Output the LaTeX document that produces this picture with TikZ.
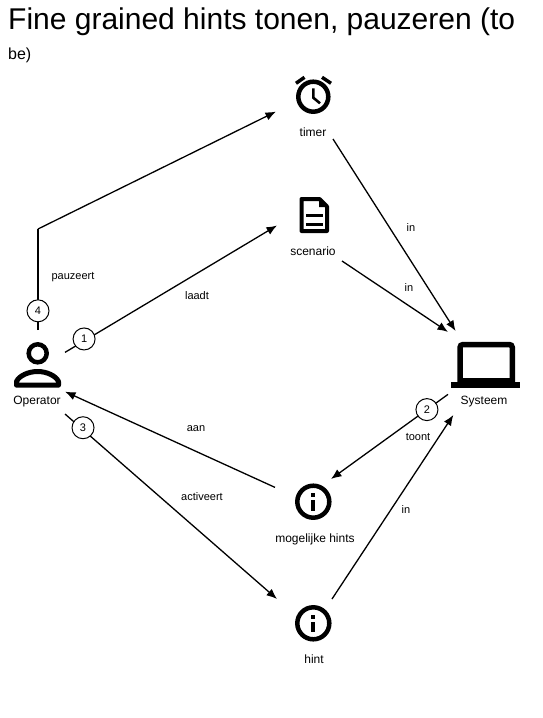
\documentclass[tikz,border=0pt]{standalone}
\usepackage{fontspec}
\setmainfont{Liberation Sans}
\usetikzlibrary{arrows.meta}
\begin{document}
\begin{tikzpicture}[x=1pt,y=-1pt]
    \tikzset{iconbox/.style={minimum width=#1, inner sep=0pt, outer sep=0pt},
        iconline/.style={draw=black, line width=#1},
        iconline/.default={4.5pt},
        caption/.style={inner sep=0pt, font=\fontsize{12}{14}\selectfont},
        edgetext/.style={inner sep=0pt, font=\fontsize{11}{13}\selectfont},
        num/.style={circle, draw=black, fill=white, minimum size=22pt, inner sep=0pt, line width=1pt, font=\fontsize{11}{13}\selectfont},
        link/.style={line width=1.3pt, -{Latex[length=10.5pt,width=8.5pt]}},
        plainlink/.style={line width=1.3pt}}
    \useasboundingbox (0,0) rectangle (543,718);
    %Titel
    \node[anchor=west, inner sep=0pt, font=\fontsize{30}{36}\selectfont] (title) at (8,22) {Fine grained hints tonen, pauzeren (to};
    \node[anchor=west, inner sep=0pt, font=\fontsize{16}{18}\selectfont] (subtitle) at (8,55) {be)};

    %Knopen
    \node[iconbox=57pt, minimum height=79pt] (timer) at (304.5,99.5) {};
    \node[iconbox=65pt, minimum height=71pt] (scenario) at (309.5,225.5) {};
    \node[iconbox=54pt, minimum height=84pt] (operator) at (38,372) {};
    \node[iconbox=74pt, minimum height=84pt] (systeem) at (485,373) {};
    \node[iconbox=56pt, minimum height=69pt] (hints) at (303,513.5) {};
    \node[iconbox=55pt, minimum height=70pt] (hint) at (304.5,634) {};
    \coordinate (bend) at (38,229);

    %Timer
    \draw[iconline] (313.3,96.7) circle (15);
    \draw[iconline=3.5pt] (296,83.3) -- (304.5,77.3);
    \draw[iconline=3.5pt] (322,77.3) -- (331,83.3);
    \draw[iconline=2.6pt] (313.3,88.3) -- (313.3,97.7) -- (320,103.3);
    \node[caption] (timerlabel) at (313,132) {timer};

    %Scenario
    \draw[iconline=4pt, line join=round] (319.5,199) -- (301.5,199) -- (301.5,231) -- (327,231) -- (327,206.5) -- cycle;
    \fill (319,198) -- (328,207) -- (319,207) -- cycle;
    \draw[iconline=3pt] (306,215.7) -- (322.7,215.7);
    \draw[iconline=3pt] (306,224) -- (322.7,224);
    \node[caption] (scenariolabel) at (313,251) {scenario};

    %Operator
    \draw[iconline] (37.7,353.3) circle (9);
    \draw[iconline=5pt, line join=round] (16.5,385.2) -- (58.5,385.2) -- (58.5,381.5) .. controls (56,376) and (47,371.5) .. (37.7,371.5) .. controls (28,371.5) and (19,376) .. (16.5,381.5) -- cycle;
    \node[caption] (operatorlabel) at (37,402) {Operator};

    %Systeem
    \draw[iconline=5.5pt, rounded corners=3pt] (460,382) -- (460,344.5) -- (512.3,344.5) -- (512.3,382);
    \fill (451,381.7) rectangle (520,387.7);
    \fill (460,378.3) rectangle (512.3,382);
    \node[caption] (systeemlabel) at (484,402) {Systeem};

    %Mogelijke hints
    \draw[iconline] (313.3,501.7) circle (16);
    \fill (311.3,493) rectangle (315.3,497);
    \fill (311.3,500) rectangle (315.3,510.7);
    \node[caption] (hintslabel) at (315,539) {mogelijke hints};

    %Hint
    \draw[iconline] (313.3,623.3) circle (16);
    \fill (311.3,614.6) rectangle (315.3,618.6);
    \fill (311.3,621.6) rectangle (315.3,632.3);
    \node[caption] (hintlabel) at (314,659) {hint};

    %Verbindingen
    \draw[link] (operator.36.5) -- node[num, pos=0.09, yshift=2pt] (one) {1} (scenario.west);
    \draw[link] (systeem.210.7) -- node[num, pos=0.18] (two) {2} (hints.north east);
    \draw[link] (operator.south east) -- node[num, pos=0.085, yshift=2pt] (three) {3} (hint.north west);
    \draw[plainlink] (operator.north) -- node[num, pos=0.19] (four) {4} (bend);
    \draw[link] (bend) -- (timer.203.7);
    \draw[link] (hints.137.7) -- (operator.-36.5);
    \draw[link] (timer.south east) -- (systeem.125.5);
    \draw[link] (scenario.south east) -- (systeem.132);
    \draw[link] (hint.north east) -- (systeem.233.6);

    %Teksten
    \node[edgetext] (laadt) at (197,296) {laadt};
    \node[edgetext] (toont) at (418,437) {toont};
    \node[edgetext] (activeert) at (202,497) {activeert};
    \node[edgetext] (pauzeert) at (73,277) {pauzeert};
    \node[edgetext] (aan) at (196,429) {aan};
    \node[edgetext] (intimer) at (411,228) {in};
    \node[edgetext] (inscenario) at (409,288) {in};
    \node[edgetext] (inhint) at (406,510) {in};
\end{tikzpicture}
\end{document}
